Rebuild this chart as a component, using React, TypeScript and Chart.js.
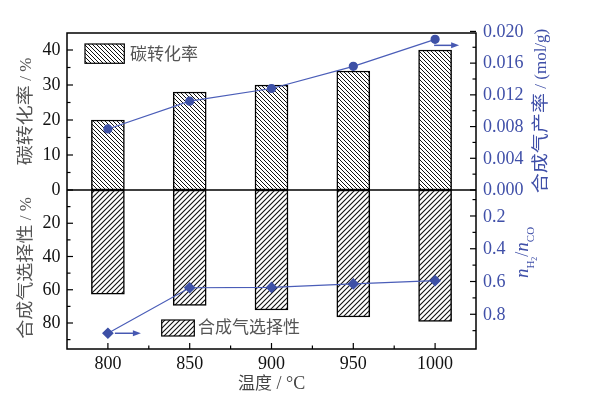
import React, { useEffect, useRef } from 'react';
import { Chart, registerables } from 'chart.js';

Chart.register(...registerables);

// ---------- data ----------
const temperatures = [800, 850, 900, 950, 1000];
const carbonConversion = [20, 28, 30, 34, 40];
const syngasSelectivity = [62.7, 69.4, 72.2, 76.4, 79.0];
const syngasRate = [0.0077, 0.0112, 0.0128, 0.0156, 0.019];
const h2coRatio = [0.916, 0.638, 0.636, 0.615, 0.595];

const xTicks = [800, 850, 900, 950, 1000];
const xMinorTicks = [825, 875, 925, 975];
const convTicks = [0, 10, 20, 30, 40];
const convMinorTicks = [5, 15, 25, 35];
const selTicks = [20, 40, 60, 80];
const selMinorTicks = [10, 30, 50, 70, 90];
const rateTicks = [0, 0.004, 0.008, 0.012, 0.016, 0.02];
const rateMinorTicks = [0.002, 0.006, 0.01, 0.014, 0.018];
const ratioTicks = [0.2, 0.4, 0.6, 0.8];
const ratioMinorTicks = [0.1, 0.3, 0.5, 0.7, 0.9];

const legendConv = '碳转化率';
const legendSel = '合成气选择性';

const BLUE = '#3D50A6';
const BLUE_TXT = '#3F4FA8';
const SERIF = '"Liberation Serif", "Times New Roman", Times, serif';
const CJK = '"Noto Sans CJK SC", "Noto Sans", sans-serif';

function makeHatch(size: number, dir: 'back' | 'fwd', lw: number) {
  const c = document.createElement('canvas');
  c.width = size;
  c.height = size;
  const g = c.getContext('2d')!;
  g.fillStyle = '#fff';
  g.fillRect(0, 0, size, size);
  g.strokeStyle = '#111';
  g.lineWidth = lw;
  g.beginPath();
  if (dir === 'back') {
    g.moveTo(-1, -1); g.lineTo(size + 1, size + 1);
    g.moveTo(-1, size - 1); g.lineTo(1, size + 1);
    g.moveTo(size - 1, -1); g.lineTo(size + 1, 1);
  } else {
    g.moveTo(-1, size + 1); g.lineTo(size + 1, -1);
    g.moveTo(-1, 1); g.lineTo(1, -1);
    g.moveTo(size - 1, size + 1); g.lineTo(size + 1, size - 1);
  }
  g.stroke();
  return g.createPattern(c, 'repeat')!;
}

type Run = { text: string; font: string; sx?: number; dy?: number };

function drawRuns(ctx: CanvasRenderingContext2D, runs: Run[], cx: number, cy: number, angle: number, color: string) {
  ctx.save();
  ctx.translate(cx, cy);
  ctx.rotate(angle);
  ctx.fillStyle = color;
  ctx.textAlign = 'left';
  ctx.textBaseline = 'alphabetic';
  let total = 0;
  const widths = runs.map((r) => {
    ctx.font = r.font;
    const w = ctx.measureText(r.text).width * (r.sx || 1);
    total += w;
    return w;
  });
  let x = -total / 2;
  runs.forEach((r, i) => {
    ctx.font = r.font;
    ctx.save();
    ctx.translate(x, r.dy || 0);
    ctx.scale(r.sx || 1, 1);
    ctx.fillText(r.text, 0, 0);
    ctx.restore();
    x += widths[i];
  });
  ctx.restore();
}

function arrow(ctx: CanvasRenderingContext2D, x1: number, y: number, x2: number) {
  ctx.save();
  ctx.strokeStyle = '#4658B2';
  ctx.fillStyle = '#4658B2';
  ctx.lineWidth = 1.5;
  ctx.beginPath();
  ctx.moveTo(x1, y);
  ctx.lineTo(x2 - 6, y);
  ctx.stroke();
  ctx.beginPath();
  ctx.moveTo(x2, y);
  ctx.lineTo(x2 - 8, y - 3);
  ctx.lineTo(x2 - 8, y + 3);
  ctx.closePath();
  ctx.fill();
  ctx.restore();
}

export default function App() {
  const ref = useRef<HTMLCanvasElement | null>(null);

  useEffect(() => {
    const canvas = ref.current;
    if (!canvas) return;
    const patBack = makeHatch(4, 'back', 1);
    const patFwd = makeHatch(5, 'fwd', 1.1);

    const decor = {
      id: 'decor',
      afterDatasetsDraw(chart: any) {
        const ctx: CanvasRenderingContext2D = chart.ctx;
        const { left, right, top, bottom } = chart.chartArea;
        const sx = chart.scales.x;
        const sConv = chart.scales.yConv;
        const sRate = chart.scales.yRate;
        const sSel = chart.scales.ySel;
        const sRatio = chart.scales.yRatio;
        ctx.save();
        ctx.strokeStyle = '#000';
        ctx.lineWidth = 1.5;
        ctx.strokeRect(left, top, right - left, bottom - top);
        const y0 = sConv.getPixelForValue(0);
        ctx.lineWidth = 1.3;
        ctx.beginPath();
        ctx.moveTo(left, y0);
        ctx.lineTo(right, y0);
        ctx.stroke();

        const MAJ = 6;
        const MIN = 3.5;
        ctx.lineWidth = 1.2;
        const hTick = (x: number, y: number, len: number) => {
          ctx.beginPath(); ctx.moveTo(x, y); ctx.lineTo(x + len, y); ctx.stroke();
        };
        const vTick = (x: number, y: number, len: number) => {
          ctx.beginPath(); ctx.moveTo(x, y); ctx.lineTo(x, y - len); ctx.stroke();
        };
        convTicks.forEach((v) => hTick(left, sConv.getPixelForValue(v), MAJ));
        convMinorTicks.forEach((v) => hTick(left, sConv.getPixelForValue(v), MIN));
        selTicks.forEach((v) => hTick(left, sSel.getPixelForValue(v), MAJ));
        selMinorTicks.forEach((v) => hTick(left, sSel.getPixelForValue(v), MIN));
        rateTicks.forEach((v) => hTick(right, sRate.getPixelForValue(v), -MAJ));
        rateMinorTicks.forEach((v) => hTick(right, sRate.getPixelForValue(v), -MIN));
        ratioTicks.forEach((v) => hTick(right, sRatio.getPixelForValue(v), -MAJ));
        ratioMinorTicks.forEach((v) => hTick(right, sRatio.getPixelForValue(v), -MIN));
        xTicks.forEach((v) => vTick(sx.getPixelForValue(v), bottom, MAJ));
        xMinorTicks.forEach((v) => vTick(sx.getPixelForValue(v), bottom, MIN));

        // tick labels
        ctx.font = '18px ' + SERIF;
        ctx.textBaseline = 'middle';
        ctx.fillStyle = '#111';
        ctx.textAlign = 'right';
        convTicks.forEach((v) => ctx.fillText(String(v), left - 6.5, sConv.getPixelForValue(v) + 0.5));
        selTicks.forEach((v) => ctx.fillText(String(v), left - 6.5, sSel.getPixelForValue(v) + 0.5));
        ctx.textAlign = 'center';
        xTicks.forEach((v) => ctx.fillText(String(v), sx.getPixelForValue(v), bottom + 15));
        ctx.fillStyle = BLUE_TXT;
        ctx.textAlign = 'left';
        rateTicks.forEach((v) => ctx.fillText(v.toFixed(3), right + 7, sRate.getPixelForValue(v) + 0.5));
        ratioTicks.forEach((v) => ctx.fillText(v.toFixed(1), right + 7, sRatio.getPixelForValue(v) + 1));

        // axis titles
        const cjkT = '17px ' + CJK;
        const serT = '17px ' + SERIF;
        drawRuns(ctx, [
          { text: '碳转化率', font: cjkT, sx: 1.18, dy: 6 },
          { text: ' / %', font: serT, dy: 6 },
        ], 24.7, 111.5, -Math.PI / 2, '#555');
        drawRuns(ctx, [
          { text: '合成气选择性', font: cjkT, sx: 1.12, dy: 6 },
          { text: ' / %', font: serT, dy: 6 },
        ], 24.7, 268, -Math.PI / 2, '#555');
        drawRuns(ctx, [
          { text: '合成气产率', font: cjkT, sx: 1.18, dy: 6 },
          { text: ' / (mol/g)', font: serT, dy: 6 },
        ], 539.5, 111, -Math.PI / 2, BLUE_TXT);
        drawRuns(ctx, [
          { text: 'n', font: 'italic 19px ' + SERIF, dy: 9 },
          { text: 'H', font: '11px ' + SERIF, dy: 15 },
          { text: '2', font: '8px ' + SERIF, dy: 18 },
          { text: '/', font: '18px ' + SERIF, dy: 9 },
          { text: 'n', font: 'italic 19px ' + SERIF, dy: 9 },
          { text: 'CO', font: '11px ' + SERIF, dy: 15 },
        ], 519, 252.5, -Math.PI / 2, BLUE_TXT);
        drawRuns(ctx, [
          { text: '温度', font: '17px ' + CJK, dy: 6 },
          { text: ' / °C', font: '18px ' + SERIF, dy: 6 },
        ], 271.7, 383, 0, '#444');

        // legends
        ctx.lineWidth = 1.2;
        ctx.strokeStyle = '#000';
        ctx.fillStyle = patBack;
        ctx.fillRect(85, 44, 39.3, 19.3);
        ctx.strokeRect(85, 44, 39.3, 19.3);
        ctx.fillStyle = patFwd;
        ctx.fillRect(161.7, 320, 32.6, 16);
        ctx.strokeRect(161.7, 320, 32.6, 16);
        ctx.font = '17px ' + CJK;
        ctx.fillStyle = '#555';
        ctx.textAlign = 'left';
        ctx.textBaseline = 'middle';
        ctx.fillText(legendConv, 130, 54);
        ctx.fillText(legendSel, 198, 327);

        // arrows
        const last = temperatures.length - 1;
        arrow(ctx, sx.getPixelForValue(temperatures[last]) - 1, sRate.getPixelForValue(syngasRate[last]) + 6, sx.getPixelForValue(temperatures[last]) + 24);
        arrow(ctx, sx.getPixelForValue(temperatures[0]) + 7, sRatio.getPixelForValue(h2coRatio[0]), sx.getPixelForValue(temperatures[0]) + 33);
        ctx.restore();
      },
    };

    const chart = new Chart(canvas, {
      type: 'bar',
      data: {
        datasets: [
          {
            type: 'line',
            label: 'rate',
            data: temperatures.map((t, i) => ({ x: t, y: syngasRate[i] })),
            xAxisID: 'x',
            yAxisID: 'yRate',
            borderColor: '#4A5DB8',
            borderWidth: 1.2,
            pointRadius: 4,
            pointStyle: 'circle',
            pointBackgroundColor: BLUE,
            pointBorderColor: BLUE,
            tension: 0,
            order: 0,
          } as any,
          {
            type: 'line',
            label: 'ratio',
            data: temperatures.map((t, i) => ({ x: t, y: h2coRatio[i] })),
            xAxisID: 'x',
            yAxisID: 'yRatio',
            borderColor: '#4A5DB8',
            borderWidth: 1.2,
            pointRadius: 5,
            pointStyle: 'rectRot',
            pointBackgroundColor: BLUE,
            pointBorderColor: BLUE,
            tension: 0,
            order: 0,
          } as any,
          {
            type: 'bar',
            label: legendConv,
            data: temperatures.map((t, i) => ({ x: t, y: carbonConversion[i] })),
            xAxisID: 'x',
            yAxisID: 'yConv',
            backgroundColor: patBack,
            borderColor: '#000',
            borderWidth: 1.5,
            borderSkipped: false,
            barThickness: 33,
            grouped: false,
            order: 1,
          } as any,
          {
            type: 'bar',
            label: legendSel,
            data: temperatures.map((t, i) => ({ x: t, y: syngasSelectivity[i] })),
            xAxisID: 'x',
            yAxisID: 'ySel',
            backgroundColor: patFwd,
            borderColor: '#000',
            borderWidth: 1.5,
            borderSkipped: false,
            barThickness: 33,
            grouped: false,
            order: 1,
          } as any,
        ],
      },
      options: {
        animation: false,
        responsive: false,
        maintainAspectRatio: false,
        devicePixelRatio: 1,
        layout: { padding: { left: 67, top: 33, right: 118, bottom: 49 } },
        plugins: { legend: { display: false }, tooltip: { enabled: false } },
        scales: {
          x: { type: 'linear', min: 775, max: 1025, display: false, offset: false },
          yConv: { type: 'linear', min: -45.43, max: 44.857, display: false },
          yRate: { type: 'linear', min: -0.02005, max: 0.0198, display: false },
          ySel: { type: 'linear', reverse: true, min: -94.44, max: 95.64, display: false },
          yRatio: { type: 'linear', reverse: true, min: -0.917, max: 1.012, display: false },
        } as any,
      },
      plugins: [decor],
    });

    let alive = true;
    if ((document as any).fonts && (document as any).fonts.load) {
      Promise.all([
        (document as any).fonts.load('18px "Liberation Serif"'),
        (document as any).fonts.load('italic 18px "Liberation Serif"'),
        (document as any).fonts.load('17px "Noto Sans CJK SC"', '碳转化率'),
      ]).then(() => {
        if (alive) chart.draw();
      }).catch(() => {});
    }
    return () => {
      alive = false;
      chart.destroy();
    };
  }, []);

  return (
    <div style={{ position: 'absolute', left: 0, top: 0, width: 594, height: 398, background: '#fff' }}>
      <canvas ref={ref} width={594} height={398} style={{ width: 594, height: 398, display: 'block' }} />
    </div>
  );
}
